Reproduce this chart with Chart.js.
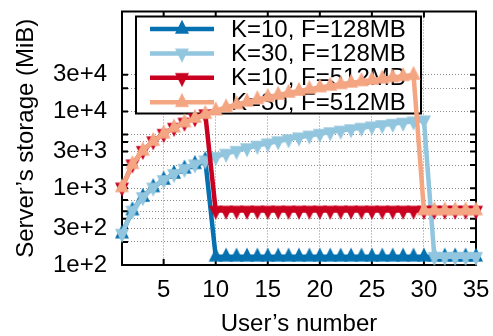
<!DOCTYPE html>
<html><head><meta charset="utf-8">
<script src="https://cdn.jsdelivr.net/npm/chart.js@4.4.0/dist/chart.umd.min.js"></script>
<style>html,body{margin:0;padding:0;background:#fff;}#wrap{width:493px;height:336px;position:relative;}</style>
</head><body><div id="wrap"><canvas id="c" width="493" height="336"></canvas></div>
<script>
// ---- data ----
const users = [1,2,3,4,5,6,7,8,9,10,11,12,13,14,15,16,17,18,19,20,21,22,23,24,25,26,27,28,29,30,31,32,33,34,35];
const k10f128 = [256,512,768,1024,1280,1536,1792,2048,2304,
  128,128,128,128,128,128,128,128,128,128,128,128,128,128,128,128,128,128,128,128,128,128,128,128,128,128];
const k30f128 = [256,512,768,1024,1280,1536,1792,2048,2304,2560,2816,3072,3328,3584,3840,4096,4352,4608,4864,5120,
  5376,5632,5888,6144,6400,6656,6912,7168,7424,7680,128,128,128,128,128];
const k10f512 = [1024,2048,3072,4096,5120,6144,7168,8192,9216,
  512,512,512,512,512,512,512,512,512,512,512,512,512,512,512,512,512,512,512,512,512,512,512,512,512,512];
const k30f512 = [1024,2048,3072,4096,5120,6144,7168,8192,9216,10240,11264,12288,13312,14336,15360,16384,17408,18432,19456,20480,
  21504,22528,23552,24576,25600,26624,27648,28672,29696,512,512,512,512,512,512];
const seriesNames = ['K=10, F=128MB','K=30, F=128MB','K=10, F=512MB','K=30, F=512MB'];
const xTicks = [5,10,15,20,25,30,35];
const yGridValues = [100,200,300,400,500,700,1000,2000,3000,4000,5000,10000,20000,30000];
const yTickLabels = {100:'1e+2',300:'3e+2',1000:'1e+3',3000:'3e+3',10000:'1e+4',30000:'3e+4'};
const xTitle = 'User\u2019s number';
const yTitle = 'Server\u2019s storage (MiB)';

// ---- styles ----
const colors = ['#0571b0','#92c5de','#ca0020','#f4a582'];
const markUp = [true,false,false,true];
function triCanvas(color, up){
  const c=document.createElement('canvas'); c.width=16; c.height=20;
  const g=c.getContext('2d'); g.fillStyle=color; g.beginPath();
  if(up){ g.moveTo(8,0.7); g.lineTo(15,14.7); g.lineTo(1,14.7); }
  else { g.moveTo(8,19.3); g.lineTo(15,5.3); g.lineTo(1,5.3); }
  g.closePath(); g.fill(); return c;
}
const marks = colors.map((c,i)=>triCanvas(c, markUp[i]));
const seriesData = [k10f128,k30f128,k10f512,k30f512];

const FONT = 'Liberation Sans, Arial, sans-serif';
Chart.defaults.font.family = FONT;
Chart.defaults.font.size = 24;
Chart.defaults.color = '#000';

const framePlugin = {
  id:'frame',
  beforeDatasetsDraw(chart){
    const {ctx, chartArea:a, scales:{x,y}} = chart;
    ctx.save();
    ctx.strokeStyle='#000'; ctx.lineWidth=2;
    ctx.beginPath();
    yGridValues.forEach(v=>{ const p=y.getPixelForValue(v);
      ctx.moveTo(a.left,p); ctx.lineTo(a.left+6,p); ctx.moveTo(a.right,p); ctx.lineTo(a.right-6,p); });
    xTicks.forEach(v=>{ const p=x.getPixelForValue(v);
      ctx.moveTo(p,a.bottom); ctx.lineTo(p,a.bottom-6); ctx.moveTo(p,a.top); ctx.lineTo(p,a.top+6); });
    ctx.stroke();
    ctx.strokeRect(a.left,a.top,a.right-a.left,a.bottom-a.top);
    // legend box
    const L=a.left+14, T=a.top+5, W=285, H=97;
    ctx.fillStyle='#fff'; ctx.fillRect(L,T,W,H);
    ctx.strokeRect(L,T,W,H);
    ctx.font = '24px '+FONT; ctx.textBaseline='middle'; ctx.textAlign='left';
    for(let i=0;i<4;i++){
      const ry = T+12.5+i*24.4;
      ctx.strokeStyle=colors[i]; ctx.lineWidth=4.5; ctx.lineCap='butt';
      ctx.beginPath(); ctx.moveTo(L+14,ry); ctx.lineTo(L+78,ry); ctx.stroke();
      const m=marks[i]; ctx.drawImage(m, L+46-m.width/2, ry-m.height/2);
      ctx.fillStyle='#000'; ctx.fillText(seriesNames[i], L+95, ry+1);
    }
    ctx.restore();
  }
};

const drawOrder = [3,2,1,0]; // first dataset is drawn on top
const datasets = drawOrder.map(i=>({
  label: seriesNames[i],
  data: seriesData[i],
  borderColor: colors[i],
  backgroundColor: colors[i],
  borderWidth: 4.5,
  pointStyle: marks[i],
  pointRadius: 7,
  pointHoverRadius: 7,
  tension: 0,
  clip: false,
}));

new Chart(document.getElementById('c'), {
  type:'line',
  data:{ labels: users, datasets },
  plugins:[framePlugin],
  options:{
    responsive:false, animation:false, devicePixelRatio:1,
    layout:{ padding:{left:0,right:17,top:10,bottom:0} },
    plugins:{ legend:{display:false}, tooltip:{enabled:false} },
    scales:{
      x:{ type:'linear', min:1, max:35,
        afterBuildTicks(s){ s.ticks = xTicks.map(v=>({value:v})); },
        afterFit(s){ s.height = 71; s.paddingLeft=0; s.paddingRight=0; },
        ticks:{ autoSkip:false, maxRotation:0, padding:11, font:{size:24} },
        grid:{ color:'#8a8a8a', lineWidth:1, drawTicks:false },
        border:{ display:false, dash:[1,2] },
        title:{ display:true, text:xTitle, font:{size:24, lineHeight:1}, padding:{top:0,bottom:0} }
      },
      y:{ type:'logarithmic', min:100, max:200000,
        afterBuildTicks(s){ s.ticks = yGridValues.map(v=>({value:v})); },
        afterFit(s){ s.width = 122; s.paddingTop=0; s.paddingBottom=0; },
        ticks:{ autoSkip:false, padding:15, font:{size:24}, callback:(v)=> yTickLabels[v] || '' },
        grid:{ color:'#8a8a8a', lineWidth:1, drawTicks:false },
        border:{ display:false, dash:[1,2] },
        title:{ display:true, text:yTitle, font:{size:24, lineHeight:1.2}, padding:{top:12,bottom:0} }
      }
    }
  }
});
</script></body></html>
